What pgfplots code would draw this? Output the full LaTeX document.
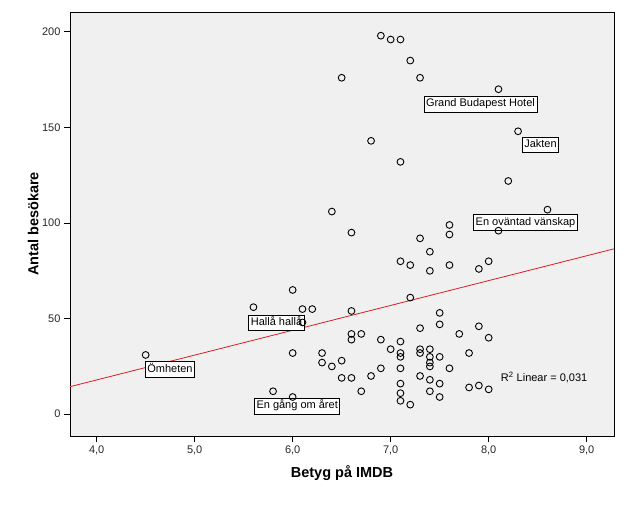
\documentclass[border=0pt]{standalone}
\usepackage{fontspec}
\setmainfont{Liberation Sans}
\usepackage{pgfplots}
\pgfplotsset{compat=1.18}
\definecolor{bggray}{RGB}{240,240,240}
\definecolor{fitred}{RGB}{220,30,30}
\pgfplotstableread{
x y
6.9 198
7.0 196
7.1 196
7.2 185
7.3 176
6.5 176
8.1 170
8.3 148
6.8 143
7.1 132
8.2 122
6.4 106
8.6 107
6.6 95
7.6 99
7.6 94
8.1 96
7.3 92
7.4 85
7.1 80
7.2 78
7.4 75
7.6 78
7.9 76
8.0 80
6.0 65
5.6 56
6.1 55
6.2 55
6.1 48
6.6 54
7.2 61
7.5 53
7.5 47
7.3 45
7.9 46
7.7 42
8.0 40
6.6 42
6.6 39
6.7 42
6.9 39
7.1 38
7.0 34
7.1 32
7.1 30
7.3 34
7.3 32
7.4 34
7.4 30
7.4 27
7.4 25
7.5 30
7.8 32
6.0 32
6.3 32
6.3 27
6.4 25
6.5 28
6.5 19
6.6 19
6.7 12
6.8 20
7.6 24
6.9 24
7.1 24
7.3 20
7.4 18
7.5 16
7.1 16
7.4 12
7.1 11
7.1 7
7.2 5
7.5 9
7.8 14
7.9 15
8.0 13
5.8 12
6.0 9
4.5 31
}\points
\begin{document}
\begin{tikzpicture}[x=1pt,y=1pt]
\useasboundingbox (-70,-68) rectangle (559,436);
\begin{axis}[
  at={(0,0)}, anchor=south west,
  scale only axis, width=544pt, height=424pt,
  xmin=3.728, xmax=9.279, ymin=-11.4, ymax=210.4,
  axis background/.style={fill=bggray},
  axis line style={black, line width=0.8pt},
  xtick={4,5,6,7,8,9}, ytick={0,50,100,150,200},
  xticklabels={{4,0},{5,0},{6,0},{7,0},{8,0},{9,0}},
  yticklabels={0,50,100,150,200},
  tick align=outside, xtick pos=lower, ytick pos=left,
  major tick length=6pt,
  tick style={black, line width=0.8pt},
  ticklabel style={font=\fontsize{11}{13}\selectfont, text=black!85},
  /pgf/number format/assume math mode=true,
  xlabel={Betyg på IMDB}, ylabel={Antal besökare},
  label style={font=\bfseries\fontsize{14.5}{17}\selectfont},
  xlabel style={at={(axis description cs:0.5,-0.0873)}, anchor=center},
  ylabel style={at={(axis description cs:-0.0675,0.5)}, anchor=center},
  clip=false,
]
\addplot[fitred, line width=0.8pt] coordinates {(3.728,14.4) (9.279,86.5)};
\addplot[only marks, mark=o, mark size=3.4pt, mark options={black, line width=0.9pt}] table[x=x,y=y] {\points};
\tikzset{lbl/.style={draw=black, fill=white, line width=0.7pt, inner xsep=2pt, inner ysep=2.5pt, font=\fontsize{11}{13}\selectfont, text height=8pt, text depth=2.5pt}}
\node[lbl] at (axis cs:7.916,162.2) {Grand Budapest Hotel};
\node[lbl] at (axis cs:8.529,140.8) {Jakten};
\node[lbl] at (axis cs:8.376,100.3) {En oväntad vänskap};
\node[lbl] at (axis cs:5.835,47.9) {Hallå hallå};
\node[lbl] at (axis cs:4.748,23.4) {Ömheten};
\node[lbl] at (axis cs:6.046,4.2) {En gång om året};
\node[font=\fontsize{11}{13}\selectfont, inner sep=0pt] at (axis cs:8.566,19.2) {R\textsuperscript{2} Linear = 0,031};
\end{axis}
\end{tikzpicture}
\end{document}
